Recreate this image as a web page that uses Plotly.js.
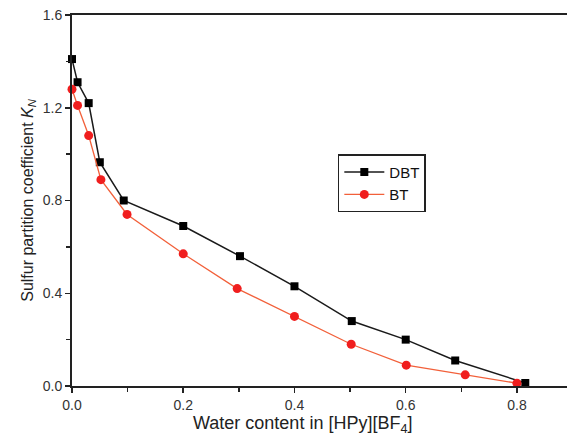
<!DOCTYPE html>
<html><head><meta charset="utf-8">
<script src="https://cdn.plot.ly/plotly-3.0.1.min.js"></script>
<style>html,body{margin:0;padding:0;background:#fff}#chart{width:567px;height:438px}</style>
</head><body><div id="chart"></div>
<script>
const dbtX = [0.0, 0.01, 0.03, 0.05, 0.093, 0.2, 0.302, 0.4, 0.503, 0.6, 0.689, 0.815];
const dbtY = [1.41, 1.31, 1.22, 0.965, 0.80, 0.69, 0.56, 0.43, 0.28, 0.20, 0.11, 0.013];
const btX = [0.0, 0.01, 0.03, 0.052, 0.099, 0.2, 0.297, 0.4, 0.502, 0.601, 0.707, 0.80];
const btY = [1.28, 1.21, 1.08, 0.89, 0.74, 0.57, 0.42, 0.30, 0.18, 0.09, 0.048, 0.012];
const seriesNames = ['DBT', 'BT'];
const xTitle = 'Water content in [HPy][BF<sub>4</sub>]';
const yTitle = 'Sulfur partition coefficient <i>K<sub>N</sub></i>';

const traces = [
  {x: dbtX, y: dbtY, name: seriesNames[0], mode: 'lines+markers', cliponaxis: false,
   line: {color: '#1a1a1a', width: 1.5},
   marker: {symbol: 'square', size: 8, color: '#000'}},
  {x: btX, y: btY, name: seriesNames[1], mode: 'lines+markers', cliponaxis: false,
   line: {color: '#f2603a', width: 1.3},
   marker: {symbol: 'circle', size: 9, color: '#f01e1e'}}
];

const font = {family: 'Liberation Sans, Arial, sans-serif', color: '#222'};
const layout = {
  width: 567, height: 438,
  margin: {l: 72, r: 0, t: 15, b: 52},
  paper_bgcolor: '#fff', plot_bgcolor: '#fff',
  showlegend: true,
  font: font,
  xaxis: {
    range: [0, 0.89], dtick: 0.2, tick0: 0, tickformat: '.1f',
    showgrid: false, zeroline: false,
    showline: true, linecolor: '#222', linewidth: 2, mirror: true,
    ticks: 'outside', ticklen: 5, tickwidth: 1.5, tickcolor: '#222',
    minor: {dtick: 0.1, ticks: 'outside', ticklen: 4, tickwidth: 1.5, tickcolor: '#222', showgrid: false},
    tickfont: {size: 14, family: font.family, color: '#333'}
  },
  yaxis: {
    range: [0, 1.6], dtick: 0.4, tick0: 0, tickformat: '.1f',
    showgrid: false, zeroline: false,
    showline: true, linecolor: '#222', linewidth: 2,
    ticks: 'outside', ticklen: 5, tickwidth: 1.5, tickcolor: '#222',
    minor: {dtick: 0.2, ticks: 'outside', ticklen: 4, tickwidth: 1.5, tickcolor: '#222', showgrid: false},
    tickfont: {size: 14, family: font.family, color: '#333'},
    title: {text: yTitle, font: {size: 16, family: font.family, color: '#222'}, standoff: 5}
  },
  annotations: [{
    text: xTitle, xref: 'paper', yref: 'paper', x: 0.465, y: -0.067,
    xanchor: 'center', yanchor: 'top', showarrow: false,
    font: {size: 18, family: font.family, color: '#222'}
  }],
  legend: {
    x: 0.537, y: 0.625, xanchor: 'left', yanchor: 'top',
    bordercolor: '#222', borderwidth: 1.5, bgcolor: '#fff',
    font: {size: 15, family: font.family, color: '#111'},
    itemwidth: 40, tracegroupgap: 0
  }
};
Plotly.newPlot('chart', traces, layout, {displayModeBar: false, staticPlot: true});
</script>
</body></html>
